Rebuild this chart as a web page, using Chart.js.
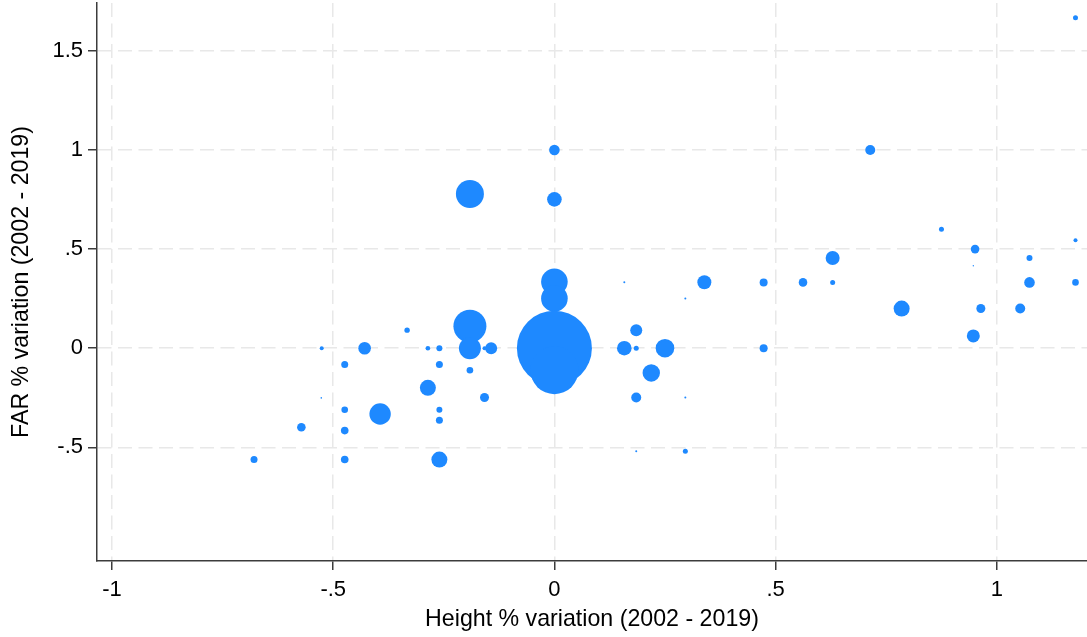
<!DOCTYPE html>
<html>
<head>
<meta charset="utf-8">
<script src="https://cdn.jsdelivr.net/npm/chart.js@4/dist/chart.umd.min.js"></script>
<style>
  html, body { margin: 0; padding: 0; background: #fff; }
  #wrap { width: 1087px; height: 637px; }
</style>
</head>
<body>
<div id="wrap"><canvas id="chart" width="1087" height="637"></canvas></div>
<script>
// Height % variation (x) and FAR % variation (y), 2002 - 2019
const heightVar = [
  -0.679, -0.572, -0.526, -0.527, -0.474, -0.474, -0.474, -0.474, -0.429, -0.333,
  -0.394, -0.286, -0.286, -0.26, -0.26, -0.26, -0.26, -0.26, -0.191, -0.191,
  -0.191, -0.158, -0.158, -0.143, -0.191, 0, 0, 0, 0, 0,
  0, 0.158, 0.296, 0.339, 0.185, 0.158, 0.185, 0.25, 0.219, 0.185,
  0.296, 0.185, 0.296, 1.178, 0.714, 0.875, 1.178, 0.951, 1.074, 0.629,
  0.947, 0.473, 0.562, 0.629, 1.074, 1.178, 0.785, 0.964, 1.053, 0.947,
  0.473
];
const farVar = [
  -0.562, -0.399, 0, -0.251, -0.082, -0.311, -0.416, -0.562, 0, 0.091,
  -0.332, -0.2, 0, 0, -0.082, -0.311, -0.364, -0.562, 0.111, 0,
  -0.111, -0.249, 0, 0, 0.778, 1, 0.751, 0.335, 0.251, 0,
  -0.111, 0.333, 0.251, 0.333, 0.091, 0, 0, 0, -0.125, -0.249,
  -0.249, -0.52, -0.52, 1.667, 1, 0.6, 0.545, 0.5, 0.455, 0.455,
  0.416, 0.332, 0.332, 0.332, 0.332, 0.332, 0.2, 0.2, 0.2, 0.062,
  0
];
// observation weight, shown as bubble radius
const weights = [
  3.5, 4.3, 2, 0.8, 3.5, 3.3, 3.8, 3.8, 6.3, 2.7,
  10.7, 8, 2.3, 3, 3.5, 3, 3.5, 8, 16.5, 11,
  3.3, 4.5, 2, 6, 14, 5.3, 7.3, 13.3, 13.3, 37.5,
  24, 1, 1, 7, 6, 7.3, 2.5, 9.3, 8.7, 5,
  1, 1, 2.5, 2.5, 5, 2.5, 2, 4.3, 3, 7,
  0.7, 4, 4.3, 2.5, 5.3, 3.3, 8, 4.5, 5, 6.5,
  4
];

const xTicks = [-1, -0.5, 0, 0.5, 1];
const yTicks = [-0.5, 0, 0.5, 1, 1.5];

function stataLabel(v) {
  // Stata style: drop the leading zero (.5, -.5)
  let s = String(v);
  return s.replace(/^0\./, '.').replace(/^-0\./, '-.');
}

const points = heightVar.map((x, i) => ({ x: x, y: farVar[i], r: weights[i] }));

const fontFam = '"Liberation Sans", Arial, Helvetica, sans-serif';
const gridColor = '#e8e8e8';
const axisColor = '#3c3c3c';

const ctx = document.getElementById('chart');
const chart = new Chart(ctx, {
  type: 'bubble',
  data: {
    datasets: [{
      data: points,
      backgroundColor: 'rgb(30,137,255)',
      borderWidth: 0,
      hoverBorderWidth: 0
    }]
  },
  options: {
    responsive: false,
    animation: false,
    devicePixelRatio: 1,
    layout: { autoPadding: false, padding: { top: 3, right: 0, left: 0, bottom: 0 } },
    plugins: {
      legend: { display: false },
      tooltip: { enabled: false }
    },
    scales: {
      x: {
        type: 'linear',
        min: -1.034,
        max: 1.204,
        afterBuildTicks: function(scale) {
          scale.ticks = xTicks.map(v => ({ value: v }));
        },
        afterFit: function(scale) {
          scale.height = 76;
          scale.paddingLeft = 0;
          scale.paddingRight = 0;
        },
        ticks: {
          color: '#000',
          font: { family: fontFam, size: 22 },
          padding: 7,
          maxRotation: 0,
          callback: v => stataLabel(v)
        },
        grid: {
          color: gridColor,
          lineWidth: 1.5,
          tickColor: axisColor,
          tickLength: 9,
          tickWidth: 1.5
        },
        border: { display: true, color: axisColor, width: 1.5, dash: [14, 6.5] },
        title: {
          display: true,
          text: 'Height % variation (2002 - 2019)',
          color: '#000',
          font: { family: fontFam, size: 23.2 },
          padding: { top: 0, bottom: 3 }
        }
      },
      y: {
        type: 'linear',
        min: -1.074,
        max: 1.742,
        afterBuildTicks: function(scale) {
          scale.ticks = yTicks.map(v => ({ value: v }));
        },
        afterFit: function(scale) {
          scale.width = 97;
          // no extra room for the end labels, the axis runs to the top edge
          scale.paddingTop = 0;
          scale.paddingBottom = 0;
        },
        ticks: {
          color: '#000',
          font: { family: fontFam, size: 22 },
          padding: 5,
          callback: v => stataLabel(v)
        },
        grid: {
          color: gridColor,
          lineWidth: 1.5,
          tickColor: axisColor,
          tickLength: 9,
          tickWidth: 1.5
        },
        border: { display: true, color: axisColor, width: 1.5, dash: [14, 6.5] },
        title: {
          display: true,
          text: 'FAR % variation (2002 - 2019)',
          color: '#000',
          font: { family: fontFam, size: 23.2 },
          padding: { top: 8, bottom: 0 }
        }
      }
    }
  }
});
</script>
</body>
</html>
